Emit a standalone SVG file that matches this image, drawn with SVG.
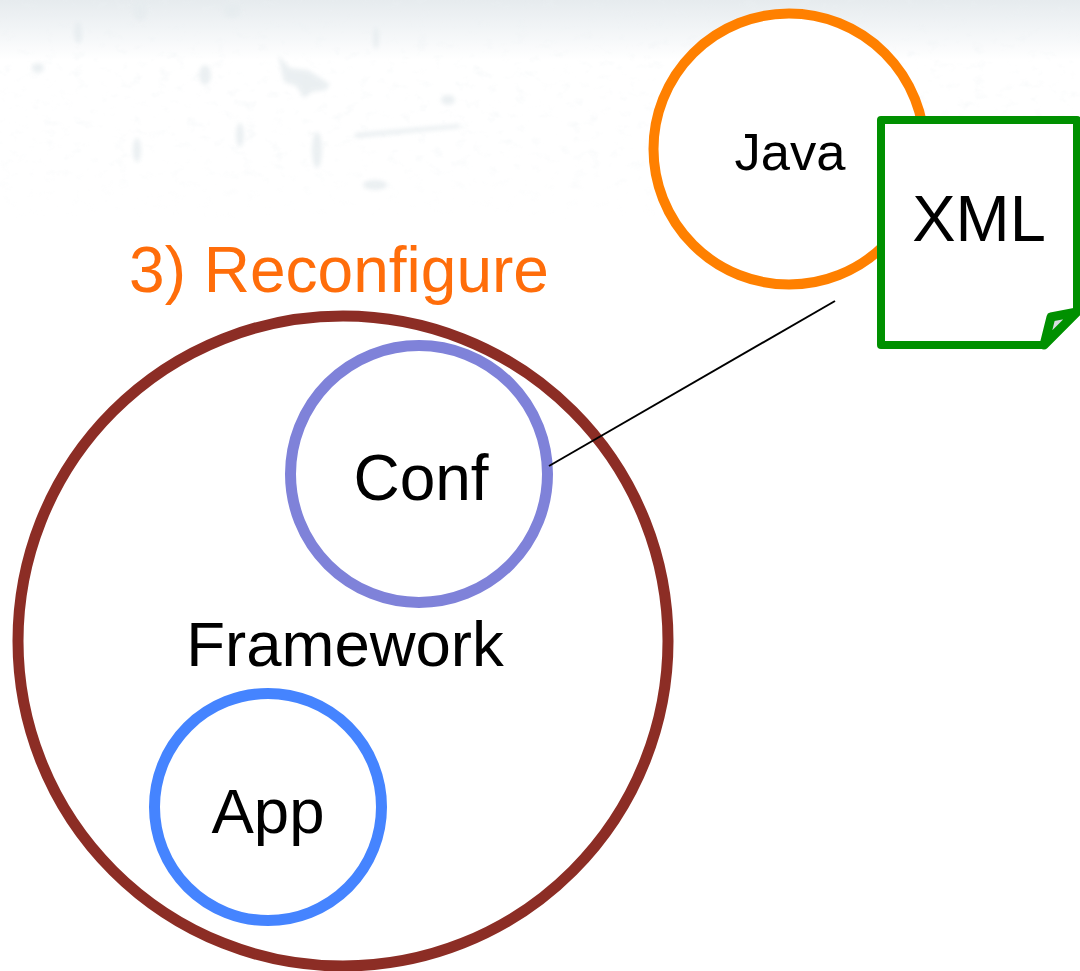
<svg xmlns="http://www.w3.org/2000/svg" width="1080" height="971" viewBox="0 0 1080 971">
<style>
.ring{fill:none;stroke-width:11}
.t{font-family:"Liberation Sans",Arial,sans-serif;fill:#000;text-anchor:middle}
.sp{fill:#e6ecef}
</style>
<defs>
<linearGradient id="top" x1="0" y1="0" x2="0" y2="1"><stop offset="0" stop-color="#e6ebee"/><stop offset="0.45" stop-color="#f1f4f6"/><stop offset="1" stop-color="#fff"/></linearGradient>
<filter id="grain" x="0" y="0" width="100%" height="100%"><feTurbulence type="fractalNoise" baseFrequency="0.07 0.1" numOctaves="3" seed="7"/><feColorMatrix values="0 0 0 0 0.84  0 0 0 0 0.88  0 0 0 0 0.9  1.6 1.6 0 0 -1.75"/></filter>
<filter id="soft" x="-20%" y="-20%" width="140%" height="140%"><feGaussianBlur stdDeviation="2"/></filter>
<linearGradient id="fade" x1="0" y1="0" x2="0" y2="1"><stop offset="0" stop-color="#fff"/><stop offset="0.7" stop-color="#fff"/><stop offset="1" stop-color="#000"/></linearGradient>
<mask id="m"><rect width="1080" height="220" fill="url(#fade)"/></mask>
</defs>
<rect width="1080" height="971" fill="#fff"/>
<rect width="1080" height="60" fill="url(#top)"/>
<g id="texture">
<rect width="1080" height="220" filter="url(#grain)" mask="url(#m)" opacity="0.4"/>
<g class="sp" filter="url(#soft)" opacity="0.8">
<ellipse cx="38" cy="68" rx="6" ry="5"/><ellipse cx="78" cy="32" rx="4" ry="11"/><ellipse cx="140" cy="10" rx="7" ry="11"/>
<path d="M278 55L290 68L308 70L330 84L326 90L312 92L304 98L296 86L284 82Z"/><ellipse cx="205" cy="75" rx="6" ry="10"/><ellipse cx="448" cy="100" rx="7" ry="5"/>
<ellipse cx="317" cy="150" rx="5" ry="18"/><path d="M355 133L460 124L460 128L355 138Z"/><ellipse cx="137" cy="150" rx="4" ry="12"/><ellipse cx="376" cy="38" rx="3" ry="11"/>
<ellipse cx="232" cy="10" rx="9" ry="8"/><ellipse cx="375" cy="185" rx="12" ry="5"/><ellipse cx="240" cy="135" rx="4" ry="12"/>
</g>
</g>
<g id="java"><circle cx="789" cy="149" r="135.500" fill="#fff" stroke="#ff8000" stroke-width="10"/><text class="t" x="790" y="170" font-size="52.500">Java</text></g>
<g id="xml">
<path d="M881 120H1077V312L1044 345H881Z" fill="#fff" stroke="#009000" stroke-width="8" stroke-linejoin="round"/>
<path d="M1044 345L1051 317L1077 312Z" fill="#d9dde0" stroke="#009000" stroke-width="9" stroke-linejoin="round"/>
<text class="t" x="979" y="241" font-size="65">XML</text>
</g>
<text id="title" class="t" x="339" y="292" font-size="64" style="fill:#ff6d0a">3) Reconfigure</text>
<g id="framework"><circle class="ring" cx="343" cy="641" r="325" stroke="#8c2d25"/><text class="t" x="345" y="666" font-size="63.500">Framework</text></g>
<g id="conf"><circle class="ring" cx="419" cy="474" r="128.500" stroke="#7f82d9"/><text class="t" x="421" y="499.500" font-size="64">Conf</text></g>
<g id="app"><circle class="ring" cx="268" cy="807" r="113.500" stroke="#4584ff"/><text class="t" x="268" y="833" font-size="63.500">App</text></g>
<g id="connectors"><line x1="549" y1="466" x2="835" y2="301" stroke="#000" stroke-width="2"/></g>
</svg>
